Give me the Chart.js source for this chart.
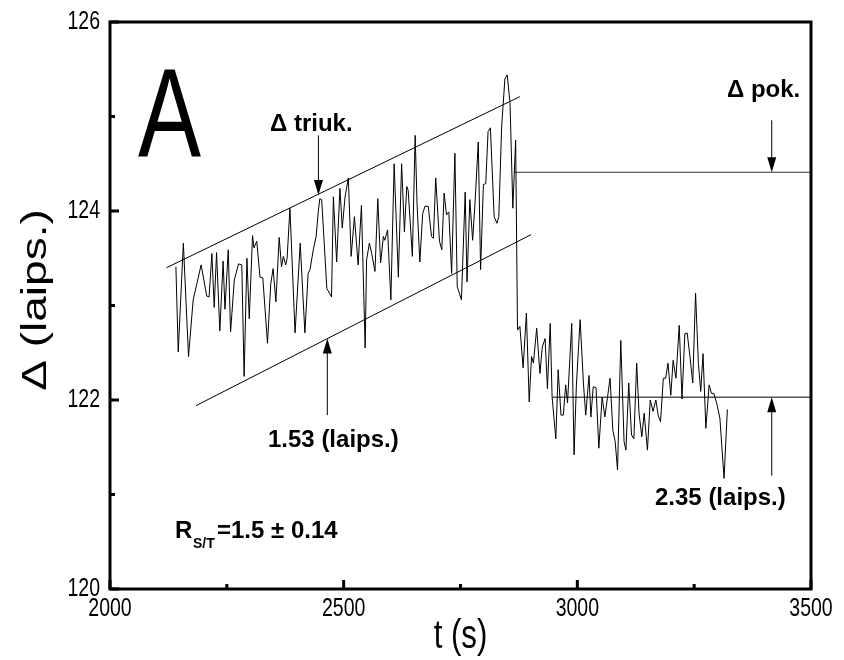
<!DOCTYPE html>
<html>
<head>
<meta charset="utf-8">
<script src="https://cdn.jsdelivr.net/npm/chart.js@4.4.1/dist/chart.umd.min.js"></script>
<style>
  body { margin: 0; background: #fff; }
  canvas { display: block; }
</style>
</head>
<body>
<canvas id="myChart" width="844" height="660"></canvas>
<script>
// measured signal, t (s) vs delta (laips.)
const times = [
  2141, 2146, 2157, 2168, 2178, 2195, 2207, 2212, 2218, 2223,
  2228, 2235, 2242, 2246, 2253, 2258, 2266, 2275, 2282, 2287,
  2293, 2298, 2305, 2308, 2314, 2321, 2327, 2337, 2344, 2349,
  2355, 2362, 2367, 2371, 2376, 2379, 2385, 2396, 2407, 2417,
  2424, 2428, 2435, 2441, 2446, 2449, 2453, 2464, 2474, 2478,
  2485, 2492, 2497, 2503, 2510, 2516, 2523, 2531, 2538, 2546,
  2549, 2555, 2560, 2567, 2573, 2579, 2585, 2588, 2594, 2601,
  2608, 2617, 2624, 2630, 2635, 2638, 2647, 2653, 2657, 2663,
  2669, 2674, 2681, 2688, 2692, 2697, 2705, 2710, 2715, 2720,
  2725, 2731, 2738, 2743, 2752, 2760, 2764, 2770, 2776, 2781,
  2788, 2793, 2799, 2804, 2809, 2814, 2822, 2828, 2832, 2838,
  2845, 2850, 2856, 2862, 2868, 2872, 2877, 2884, 2891, 2897,
  2902, 2906, 2913, 2920, 2925, 2931, 2936, 2942, 2946, 2954,
  2959, 2965, 2970, 2975, 2979, 2988, 2993, 2998, 3006, 3013,
  3018, 3025, 3029, 3034, 3040, 3046, 3053, 3059, 3070, 3076,
  3081, 3086, 3093, 3100, 3104, 3110, 3116, 3121, 3127, 3132,
  3138, 3143, 3150, 3156, 3162, 3168, 3173, 3178, 3184, 3189,
  3194, 3200, 3205, 3211, 3218, 3224, 3230, 3235, 3241, 3247,
  3253, 3259, 3264, 3269, 3275, 3282, 3287, 3292, 3298, 3305,
  3314, 3321
];
const delta = [
  123.41, 122.51, 123.66, 122.46, 123.06, 123.43, 123.10, 123.09, 123.55, 122.98,
  123.56, 122.73, 123.47, 122.96, 123.59, 122.72, 123.27, 123.44, 123.43, 122.25,
  123.50, 122.86, 123.74, 123.61, 123.68, 123.30, 123.29, 122.60, 123.23, 123.39,
  123.04, 123.72, 123.41, 123.52, 123.43, 123.50, 124.03, 122.71, 123.66, 122.71,
  123.34, 123.38, 123.59, 123.73, 124.01, 124.13, 124.12, 123.18, 123.09, 124.15,
  123.46, 124.24, 123.82, 124.15, 124.35, 123.52, 123.94, 123.43, 124.06, 122.55,
  123.48, 123.66, 123.55, 123.36, 124.13, 123.45, 123.73, 123.69, 123.80, 123.06,
  124.50, 123.30, 124.50, 123.78, 124.26, 124.22, 123.52, 124.80, 124.08, 123.46,
  123.97, 124.05, 124.05, 123.73, 123.71, 124.35, 123.68, 123.59, 124.19, 123.96,
  123.99, 123.34, 124.61, 123.20, 123.06, 124.20, 123.25, 124.12, 123.69, 124.08,
  124.73, 123.38, 124.28, 124.29, 124.84, 124.88, 123.94, 123.87, 123.94, 124.89,
  125.40, 125.44, 125.14, 124.03, 124.75, 122.74, 122.78, 122.34, 122.92, 121.98,
  122.46, 122.39, 122.76, 122.28, 122.56, 122.65, 122.12, 122.81, 122.03, 121.59,
  122.32, 121.84, 121.84, 122.16, 121.97, 122.81, 121.42, 122.16, 122.85, 122.18,
  121.84, 122.26, 121.82, 122.14, 122.13, 121.49, 122.03, 121.82, 122.23, 121.68,
  121.56, 121.26, 122.63, 121.56, 121.47, 122.18, 121.63, 121.59, 122.39, 121.86,
  121.61, 121.86, 121.47, 122.00, 121.88, 122.00, 121.84, 121.77, 122.23, 122.23,
  122.39, 122.05, 122.42, 122.23, 122.79, 122.01, 122.70, 122.71, 122.46, 122.18,
  123.13, 122.39, 122.09, 122.49, 121.70, 122.16, 122.07, 122.07, 121.97, 121.81,
  121.17, 121.90
];

// guide lines
const upperTrendT = [2121, 2877];
const upperTrendD = [123.40, 125.21];
const lowerTrendT = [2184, 2901];
const lowerTrendD = [121.94, 123.75];
const levelHighT = [2865, 3500];
const levelHighD = [124.41, 124.41];
const levelLowT = [2946, 3500];
const levelLowD = [122.03, 122.03];

// arrows: time, start value, tip value
const arrowT = [2446, 2465, 3416, 3416];
const arrowFrom = [124.80, 121.84, 124.96, 121.20];
const arrowTo = [124.17, 122.65, 124.41, 122.03];

// axis ticks
const xMajor = [2000, 2500, 3000, 3500];
const xMinor = [2250, 2750, 3250];
const yMajor = [120, 122, 124, 126];
const yMinor = [121, 123, 125];

const pts = (ts, ds) => ts.map((t, i) => ({ x: t, y: ds[i] }));

function lineSet(data, color, width) {
  return {
    data: data,
    borderColor: color,
    borderWidth: width,
    pointRadius: 0,
    tension: 0,
    fill: false,
  };
}

function narrowText(ctx, str, x, y, font, sx, align) {
  ctx.save();
  ctx.font = font;
  ctx.translate(x, y);
  ctx.scale(sx, 1);
  ctx.textAlign = align || "left";
  ctx.fillText(str, 0, 0);
  ctx.restore();
}

const decor = {
  id: "decor",
  beforeDraw(chart) {
    const ctx = chart.ctx;
    ctx.save();
    ctx.fillStyle = "#fff";
    ctx.fillRect(0, 0, chart.width, chart.height);
    ctx.restore();
  },
  afterDraw(chart) {
    const ctx = chart.ctx;
    const a = chart.chartArea;
    const xs = chart.scales.x;
    const ys = chart.scales.y;
    ctx.save();
    ctx.fillStyle = "#000";
    ctx.strokeStyle = "#000";

    // arrows
    ctx.lineWidth = 1;
    arrowT.forEach((t, i) => {
      const x = xs.getPixelForValue(t);
      const y0 = ys.getPixelForValue(arrowFrom[i]);
      const y1 = ys.getPixelForValue(arrowTo[i]);
      const dir = y1 > y0 ? 1 : -1;
      ctx.beginPath();
      ctx.moveTo(x, y0);
      ctx.lineTo(x, y1 - dir * 10);
      ctx.stroke();
      ctx.beginPath();
      ctx.moveTo(x, y1);
      ctx.lineTo(x - 4.5, y1 - dir * 15);
      ctx.lineTo(x + 4.5, y1 - dir * 15);
      ctx.closePath();
      ctx.fill();
    });

    // frame
    ctx.lineWidth = 3;
    ctx.strokeRect(a.left, a.top, a.right - a.left, a.bottom - a.top);

    // ticks
    ctx.lineWidth = 3;
    ctx.beginPath();
    yMajor.forEach((v) => {
      const y = ys.getPixelForValue(v);
      ctx.moveTo(a.left, y); ctx.lineTo(a.left + 9, y);
    });
    yMinor.forEach((v) => {
      const y = ys.getPixelForValue(v);
      ctx.moveTo(a.left, y); ctx.lineTo(a.left + 5, y);
    });
    xMajor.forEach((v) => {
      const x = xs.getPixelForValue(v);
      ctx.moveTo(x, a.bottom); ctx.lineTo(x, a.bottom - 9);
    });
    xMinor.forEach((v) => {
      const x = xs.getPixelForValue(v);
      ctx.moveTo(x, a.bottom); ctx.lineTo(x, a.bottom - 5);
    });
    ctx.stroke();

    // tick labels
    const tickFont = "25px 'Liberation Sans', Arial, sans-serif";
    ctx.textBaseline = "middle";
    yMajor.forEach((v) => {
      narrowText(ctx, String(v), a.left - 10, ys.getPixelForValue(v), tickFont, 0.78, "right");
    });
    ctx.textBaseline = "top";
    xMajor.forEach((v) => {
      narrowText(ctx, String(v), xs.getPixelForValue(v), a.bottom + 8, tickFont, 0.78, "center");
    });

    // axis titles
    ctx.textBaseline = "alphabetic";
    narrowText(ctx, "t (s)", (a.left + a.right) / 2, 648, "40px 'Liberation Sans', Arial, sans-serif", 0.78, "center");
    ctx.save();
    ctx.translate(36, 300);
    ctx.rotate(-Math.PI / 2);
    ctx.scale(1, 0.78);
    ctx.font = "46px 'Liberation Sans', Arial, sans-serif";
    ctx.textAlign = "center";
    ctx.textBaseline = "middle";
    ctx.fillText("\u0394 (laips.)", 0, 0);
    ctx.restore();

    // panel letter
    ctx.textBaseline = "alphabetic";
    narrowText(ctx, "A", 138, 156, "126px 'Liberation Sans', Arial, sans-serif", 0.75, "left");

    // annotations
    const bold = "bold 24px 'Liberation Sans', Arial, sans-serif";
    narrowText(ctx, "\u0394 triuk.", 270, 131, bold, 1, "left");
    narrowText(ctx, "\u0394 pok.", 727, 97, bold, 1, "left");
    narrowText(ctx, "1.53 (laips.)", 268, 447, bold, 1, "left");
    narrowText(ctx, "2.35 (laips.)", 655, 505, bold, 1, "left");
    narrowText(ctx, "R", 175, 538, bold, 1, "left");
    narrowText(ctx, "S/T", 193, 548, "bold 14px 'Liberation Sans', Arial, sans-serif", 1, "left");
    narrowText(ctx, "=1.5 \u00b1 0.14", 217, 538, bold, 1, "left");

    ctx.restore();
  },
};

new Chart("myChart", {
  type: "line",
  data: {
    datasets: [
      lineSet(pts(times, delta), "#000", 1),
      lineSet(pts(upperTrendT, upperTrendD), "#000", 1),
      lineSet(pts(lowerTrendT, lowerTrendD), "#000", 1),
      lineSet(pts(levelHighT, levelHighD), "#333", 1.2),
      lineSet(pts(levelLowT, levelLowD), "#555", 1.5),
    ],
  },
  options: {
    responsive: false,
    devicePixelRatio: 1,
    animation: false,
    layout: { padding: { left: 110, top: 22, right: 33, bottom: 71 } },
    plugins: {
      legend: { display: false },
      tooltip: { enabled: false },
    },
    scales: {
      x: { type: "linear", min: 2000, max: 3500, display: false },
      y: { type: "linear", min: 120, max: 126, display: false },
    },
  },
  plugins: [decor],
});
</script>
</body>
</html>
